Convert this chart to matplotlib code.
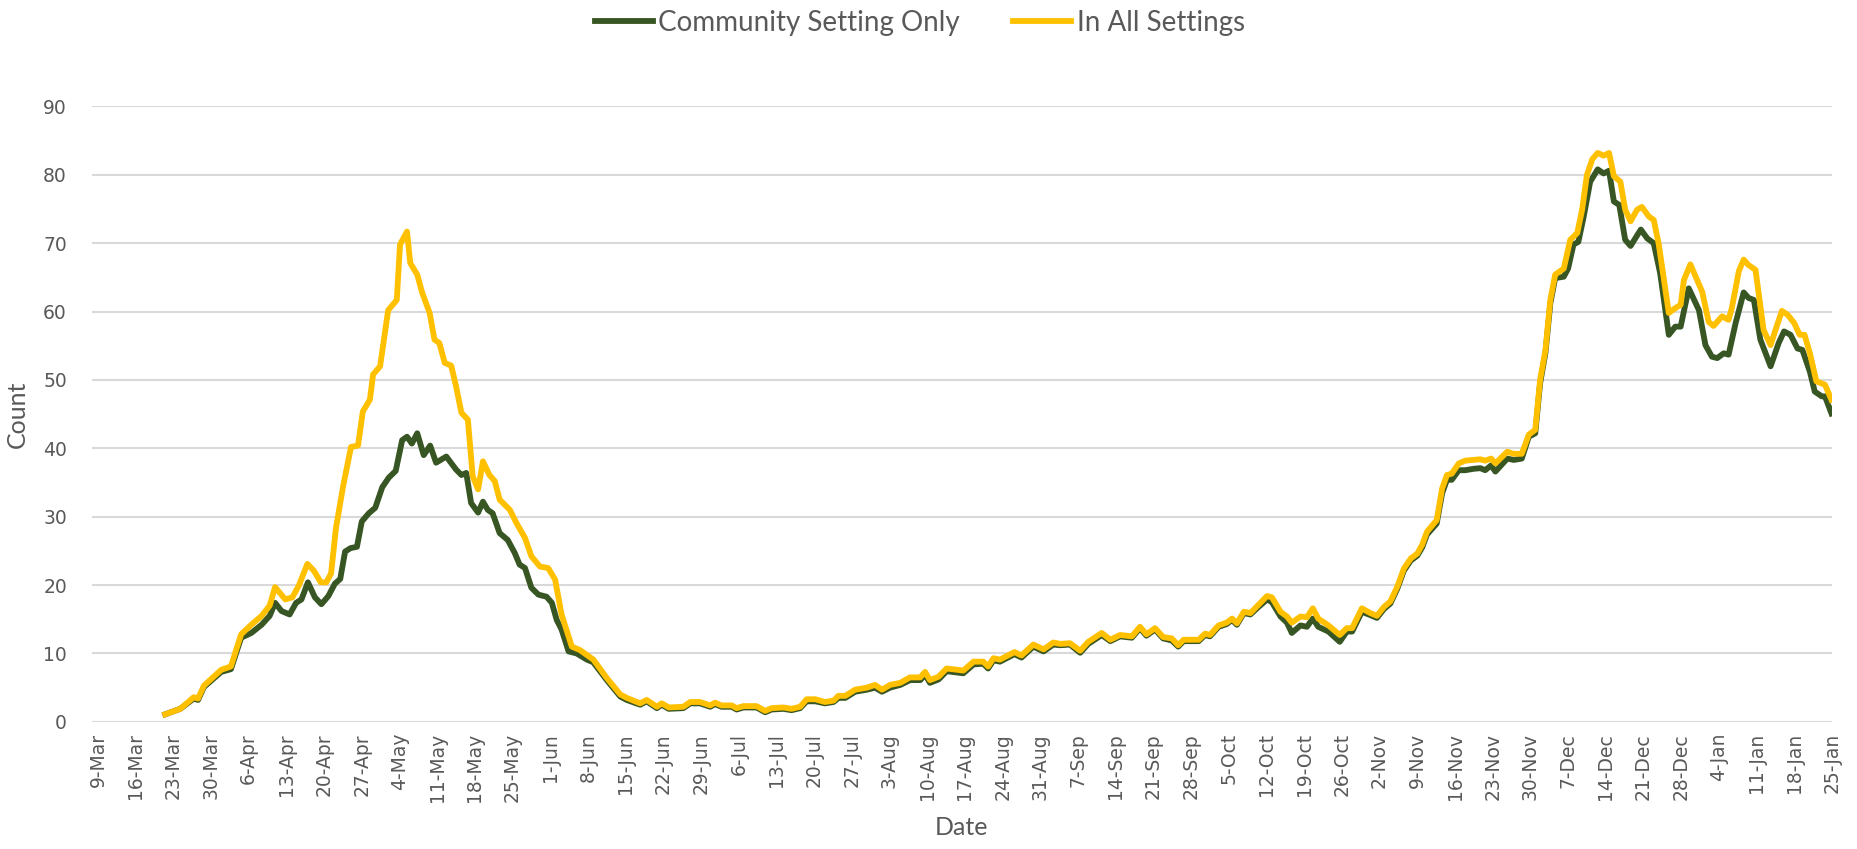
import numpy as np
import matplotlib
matplotlib.use("Agg")
import matplotlib.pyplot as plt

# days counted from 9-Mar
all_days = [12.5, 15.3, 17.8, 18.6, 19.7, 22.9, 24.7, 26.6, 28.5, 30.4, 31.9, 32.9, 34.8, 36.1, 37.3,
            38.9, 40.1, 41.4, 42.4, 43.3, 44.2, 45.5, 47.0, 48.3, 49.2, 50.5, 51.1, 52.4, 53.9, 55.5,
            56.1, 57.4, 58.0, 59.3, 60.2, 61.6, 62.5, 63.4, 64.4, 65.6, 66.5, 67.5, 68.7, 69.6, 70.6,
            71.5, 72.7, 73.7, 74.6, 76.5, 77.7, 79.3, 80.5, 82.1, 83.6, 84.9, 86.1, 87.1, 88.0, 89.5,
            92.0, 94.5, 97.0, 98.2, 100.7, 101.9, 103.8, 104.7, 106.0, 108.7, 110.0, 111.8, 113.7, 114.6,
            115.8, 117.7, 118.6, 119.9, 122.3, 123.9, 125.1, 127.3, 128.8, 130.4, 131.6, 133.2, 135.0,
            136.6, 137.5, 138.8, 140.6, 142.8, 144.3, 145.6, 147.1, 149.0, 150.8, 152.7, 153.6, 154.5,
            156.1, 157.6, 160.7, 162.6, 164.4, 165.3, 166.3, 167.5, 170.2, 171.5, 173.7, 175.6, 177.4,
            178.7, 180.5, 182.4, 183.9, 186.4, 188.0, 189.8, 192.0, 193.5, 194.7, 196.3, 197.8, 199.4,
            200.6, 201.6, 204.4, 205.6, 206.5, 208.1, 209.6, 210.6, 211.5, 212.8, 214.0, 215.5, 217.1,
            218.0, 219.6, 220.8, 221.7, 223.3, 224.5, 225.6, 226.6, 228.5, 230.6, 231.9, 232.9, 234.7,
            236.3, 237.5, 238.8, 240.0, 241.3, 242.5, 243.8, 245.0, 245.9, 246.8, 248.6, 249.6, 250.5,
            251.4, 252.7, 253.9, 255.4, 256.7, 257.6, 258.7, 259.5, 261.7, 262.9, 264.4, 265.7, 266.9,
            267.8, 268.8, 269.7, 270.6, 272.2, 273.4, 274.7, 275.6, 276.5, 277.5, 278.5, 279.6, 280.6,
            281.5, 282.7, 283.6, 284.6, 285.8, 286.7, 288.0, 288.9, 289.8, 291.7, 292.9, 293.9, 294.5,
            295.7, 297.9, 299.1, 300.0, 301.6, 302.8, 303.4, 304.7, 305.6, 306.5, 307.8, 309.3, 310.6,
            311.5, 312.7, 313.8, 315.0, 316.0, 316.9, 317.9, 319.1, 320.7, 321.9]
all_vals = [1.1, 1.9, 3.6, 3.4, 5.3, 7.6, 8.1, 12.8, 14.2, 15.5, 17.0, 19.7, 17.9, 18.2, 19.9,
            23.1, 22.1, 20.4, 20.4, 21.7, 28.3, 34.3, 40.2, 40.4, 45.4, 47.1, 50.8, 52.0, 60.2, 61.7,
            69.8, 71.7, 67.1, 65.4, 62.8, 59.8, 55.9, 55.4, 52.5, 52.1, 49.1, 45.2, 44.2, 35.9, 34.0,
            38.1, 36.1, 35.2, 32.5, 31.0, 29.1, 26.9, 24.2, 22.7, 22.5, 20.8, 15.7, 13.2, 11.0, 10.5,
            9.1, 6.4, 4.0, 3.5, 2.7, 3.2, 2.2, 2.7, 2.1, 2.2, 2.9, 2.9, 2.4, 2.8,
            2.4, 2.4, 2.0, 2.3, 2.3, 1.6, 2.0, 2.1, 1.9, 2.2, 3.3, 3.3, 2.9,
            3.1, 3.8, 3.8, 4.7, 5.0, 5.4, 4.7, 5.4, 5.7, 6.5, 6.5, 7.3, 6.1,
            6.6, 7.8, 7.5, 8.8, 8.8, 8.1, 9.3, 9.1, 10.2, 9.7, 11.3, 10.6, 11.6,
            11.4, 11.5, 10.4, 11.7, 13.0, 12.0, 12.7, 12.5, 13.9, 12.8, 13.7, 12.4, 12.2,
            11.2, 12.0, 12.0, 12.9, 12.7, 14.1, 14.5, 15.1, 14.4, 16.1, 15.9, 17.1, 18.4,
            18.2, 16.1, 15.4, 14.5, 15.4, 15.3, 16.6, 15.1, 14.1, 12.7, 13.7, 13.7, 16.6,
            15.9, 15.5, 16.8, 17.6, 19.8, 22.4, 23.9, 24.6, 25.9, 27.8, 29.5, 34.1, 36.1,
            36.3, 37.8, 38.2, 38.3, 38.4, 38.2, 38.5, 37.8, 39.5, 39.2, 39.2, 42.0, 42.7,
            50.0, 54.4, 61.7, 65.4, 66.3, 70.5, 71.5, 74.9, 80.0, 82.3, 83.2, 82.8, 83.2,
            79.8, 79.0, 74.9, 73.2, 74.9, 75.3, 73.9, 73.4, 70.0, 59.8, 60.5, 61.0, 64.6,
            66.9, 62.9, 58.5, 57.9, 59.3, 58.8, 60.5, 65.9, 67.6, 66.8, 66.1, 57.3, 55.1,
            57.3, 60.1, 59.5, 58.3, 56.6, 56.6, 53.9, 49.8, 49.3, 47.1]

comm_days = [12.5, 15.3, 17.8, 18.6, 19.7, 22.9, 24.7, 26.6, 28.5, 30.4, 31.9, 32.9, 34.1, 35.6, 36.8,
             37.8, 39.0, 40.3, 41.5, 42.8, 44.0, 45.0, 45.9, 46.9, 48.1, 49.0, 50.3, 51.5, 52.8, 54.0,
             55.3, 56.5, 57.4, 58.3, 59.3, 60.5, 61.7, 62.8, 64.7, 66.5, 67.5, 68.4, 69.3, 70.6, 71.5,
             72.4, 73.3, 74.6, 76.1, 77.4, 78.3, 79.3, 80.5, 81.8, 83.3, 84.3, 85.2, 86.1, 87.4, 88.9,
             90.8, 92.0, 94.5, 97.0, 98.2, 100.7, 101.9, 103.8, 104.7, 106.0, 108.7, 110.0, 111.8, 113.7,
             114.6, 115.8, 117.7, 118.6, 119.9, 122.3, 123.9, 125.1, 127.3, 128.8, 130.4, 131.6, 133.2,
             135.0, 136.6, 137.5, 138.8, 140.6, 142.8, 144.3, 145.6, 147.1, 149.0, 150.8, 152.7, 153.6,
             154.5, 156.1, 157.6, 160.7, 162.6, 164.4, 165.3, 166.3, 167.5, 170.2, 171.5, 173.7, 175.6,
             177.4, 178.7, 180.5, 182.4, 183.9, 186.4, 188.0, 189.8, 192.0, 193.5, 194.7, 196.3, 197.8,
             199.4, 200.6, 201.6, 204.4, 205.6, 206.5, 208.1, 209.6, 210.6, 211.5, 212.8, 214.0, 215.5,
             217.1, 218.0, 219.6, 220.8, 221.7, 223.3, 224.5, 225.6, 226.6, 228.5, 230.6, 231.9, 232.9,
             234.7, 236.3, 237.5, 238.8, 240.0, 241.3, 242.5, 243.8, 245.0, 245.9, 246.8, 248.6, 249.6,
             250.5, 251.4, 252.7, 253.9, 255.4, 256.7, 257.6, 258.7, 259.5, 261.7, 262.9, 264.4, 265.7,
             266.9, 267.8, 268.8, 269.7, 270.6, 272.2, 273.0, 274.0, 274.9, 275.9, 277.1, 278.5, 279.6,
             280.6, 281.5, 282.5, 283.6, 284.6, 286.5, 287.7, 288.9, 290.1, 291.7, 292.9, 293.9, 295.4,
             297.3, 298.5, 299.7, 300.7, 301.9, 302.8, 304.1, 305.6, 306.5, 307.5, 308.7, 310.6, 312.1,
             313.1, 314.3, 315.6, 316.5, 317.9, 318.8, 320.1, 320.7, 321.9]
comm_vals = [1.1, 1.9, 3.4, 3.2, 5.1, 7.3, 7.7, 12.3, 13.0, 14.2, 15.5, 17.4, 16.2, 15.7, 17.4,
             17.9, 20.4, 18.2, 17.2, 18.4, 20.2, 20.9, 24.9, 25.4, 25.6, 29.3, 30.5, 31.3, 34.3, 35.7,
             36.7, 41.2, 41.7, 40.7, 42.2, 39.0, 40.4, 37.9, 38.8, 36.9, 36.1, 36.4, 32.0, 30.6, 32.2,
             31.0, 30.5, 27.6, 26.6, 24.7, 23.0, 22.5, 19.6, 18.6, 18.3, 17.4, 14.9, 13.5, 10.3, 10.0,
             9.1, 8.7, 6.1, 3.7, 3.2, 2.5, 3.0, 2.0, 2.5, 1.9, 2.0, 2.7, 2.7, 2.2,
             2.6, 2.2, 2.2, 1.8, 2.1, 2.1, 1.4, 1.8, 1.9, 1.7, 2.0, 3.0, 3.0,
             2.7, 2.9, 3.5, 3.5, 4.4, 4.7, 5.0, 4.4, 5.0, 5.4, 6.1, 6.1, 6.9,
             5.7, 6.2, 7.4, 7.1, 8.4, 8.5, 7.8, 9.0, 8.8, 9.9, 9.4, 11.0, 10.3,
             11.3, 11.2, 11.3, 10.1, 11.4, 12.7, 11.8, 12.5, 12.3, 13.7, 12.6, 13.5, 12.2,
             11.9, 11.0, 11.8, 11.8, 12.7, 12.5, 13.9, 14.3, 14.9, 14.2, 15.9, 15.7, 16.8,
             17.9, 17.5, 15.4, 14.5, 13.0, 14.1, 13.9, 15.1, 13.9, 13.2, 11.7, 13.2, 13.2,
             16.1, 15.6, 15.2, 16.5, 17.3, 19.5, 22.1, 23.6, 24.3, 25.5, 27.4, 29.0, 33.4,
             35.4, 35.4, 36.8, 36.8, 37.0, 37.1, 36.8, 37.5, 36.6, 38.5, 38.3, 38.5, 41.7,
             42.2, 49.5, 54.0, 61.2, 64.9, 65.1, 66.3, 69.8, 70.2, 73.9, 79.0, 80.8, 80.2,
             80.6, 76.1, 75.6, 70.5, 69.6, 72.0, 70.7, 70.0, 65.6, 56.6, 57.8, 57.8, 63.4,
             60.2, 55.1, 53.4, 53.2, 53.9, 53.7, 58.3, 62.8, 62.0, 61.7, 55.9, 52.0, 55.4,
             57.1, 56.6, 54.6, 54.4, 51.2, 48.3, 47.6, 47.6, 45.1]

tick_labels = ["9-Mar", "16-Mar", "23-Mar", "30-Mar", "6-Apr", "13-Apr", "20-Apr", "27-Apr",
               "4-May", "11-May", "18-May", "25-May", "1-Jun", "8-Jun", "15-Jun", "22-Jun",
               "29-Jun", "6-Jul", "13-Jul", "20-Jul", "27-Jul", "3-Aug", "10-Aug", "17-Aug",
               "24-Aug", "31-Aug", "7-Sep", "14-Sep", "21-Sep", "28-Sep", "5-Oct", "12-Oct",
               "19-Oct", "26-Oct", "2-Nov", "9-Nov", "16-Nov", "23-Nov", "30-Nov", "7-Dec",
               "14-Dec", "21-Dec", "28-Dec", "4-Jan", "11-Jan", "18-Jan", "25-Jan"]

GREEN = "#375623"
YELLOW = "#FFC000"
GREY = "#595959"

fig = plt.figure(figsize=(18.58, 8.49), dpi=100)
ax = fig.add_axes([0.0495, 0.1498, 0.9365, 0.7248])

ax.plot(comm_days, comm_vals, color=GREEN, lw=4.2, solid_joinstyle="round",
        label="Community Setting Only", zorder=3)
ax.plot(all_days, all_vals, color=YELLOW, lw=4.2, solid_joinstyle="round",
        label="In All Settings", zorder=4)

ax.set_ylim(0, 90)
ax.set_xlim(-1.1, 322)
ax.set_yticks(np.arange(0, 91, 10))
ax.set_xticks(np.arange(0, 7 * len(tick_labels), 7))
ax.set_xticklabels(tick_labels, rotation=90)
ax.tick_params(axis="both", length=0, labelsize=13.5, labelcolor=GREY)
ax.tick_params(axis="y", pad=18)
ax.tick_params(axis="x", pad=8)
ax.grid(axis="y", color="#D9D9D9", lw=1.5)
ax.set_axisbelow(True)
for s in ax.spines.values():
    s.set_visible(False)

ax.set_ylabel("Count", family="Lato", fontsize=18, color=GREY, labelpad=10)
ax.set_xlabel("Date", family="Lato", fontsize=18, color=GREY, labelpad=10)

fig.legend(loc="center", bbox_to_anchor=(0.495, 0.973), ncol=2, frameon=False,
           prop={"family": "Lato", "size": 20}, labelcolor=GREY,
           handlelength=2.1, handletextpad=0.2, columnspacing=1.9)

fig.savefig("out.png", dpi=100)
